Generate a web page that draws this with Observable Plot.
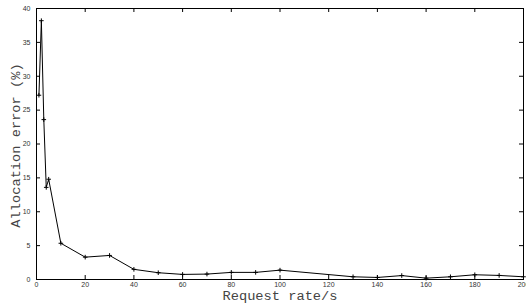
<!DOCTYPE html>
<html>
<head>
<meta charset="utf-8">
<script src="https://cdn.jsdelivr.net/npm/d3@7"></script>
<script src="https://cdn.jsdelivr.net/npm/@observablehq/plot@0.6"></script>
<style>
  html, body { margin: 0; padding: 0; background: #fff; }
  #chart svg { display: block; }
</style>
</head>
<body>
<div id="chart"></div>
<script>
const rates = [1, 2, 3, 4, 5, 10, 20, 30, 40, 50, 60, 70, 80, 90, 100, 130, 140, 150, 160, 170, 180, 190, 200];
const errors = [27.2, 38.2, 23.6, 13.6, 14.8, 5.35, 3.3, 3.55, 1.5, 1.0, 0.75, 0.8, 1.05, 1.05, 1.38, 0.4, 0.3, 0.58, 0.2, 0.4, 0.7, 0.6, 0.4];
const xTicks = [0, 20, 40, 60, 80, 100, 120, 140, 160, 180, 200];
const yTicks = [0, 5, 10, 15, 20, 25, 30, 35, 40];
const xLabel = ["Request rate/s"];
const yLabel = ["Allocation error (%)"];

const data = rates.map((r, i) => ({rate: r, error: errors[i]}));

const W = 526, H = 308;
const mL = 36, mR = 3, mT = 8, mB = 29;
const innerW = W - mL - mR, innerH = H - mT - mB;
const tl = 4;

const chart = Plot.plot({
  width: W,
  height: H,
  marginLeft: mL,
  marginRight: mR,
  marginTop: mT,
  marginBottom: mB,
  style: {background: "#fff"},
  x: {domain: [0, 200]},
  y: {domain: [0, 40]},
  marks: [
    Plot.axisX(xTicks, {tickSize: 0, tickPadding: 3, fontSize: 7, fontFamily: "Liberation Sans", fill: "#333", label: null}),
    Plot.axisY(yTicks, {tickSize: 0, tickPadding: 6, fontSize: 7, fontFamily: "Liberation Sans", fill: "#333", label: null}),
    Plot.tickX(xTicks, {x: d => d, insetTop: innerH - tl, stroke: "#000"}),
    Plot.tickX(xTicks, {x: d => d, insetBottom: innerH - tl, stroke: "#000"}),
    Plot.tickY(yTicks, {y: d => d, insetRight: innerW - tl, stroke: "#000"}),
    Plot.tickY(yTicks, {y: d => d, insetLeft: innerW - tl, stroke: "#000"}),
    Plot.line(data, {x: "rate", y: "error", stroke: "#000", strokeWidth: 1}),
    Plot.dot(data, {x: "rate", y: "error", symbol: "plus", r: 1.6, stroke: "#000", strokeWidth: 1}),
    Plot.frame({stroke: "#000", strokeWidth: 1}),
    Plot.text(xLabel, {text: d => d, frameAnchor: "bottom", textAnchor: "middle", lineAnchor: "middle", dy: 16.6, fontFamily: "Liberation Mono", fontSize: 13.7, fill: "#444"}),
    Plot.text(yLabel, {text: d => d, frameAnchor: "left", textAnchor: "middle", lineAnchor: "middle", rotate: -90, dx: -21, dy: 1.5, fontFamily: "Liberation Mono", fontSize: 13.7, fill: "#444"})
  ]
});
document.getElementById("chart").appendChild(chart);
</script>
</body>
</html>
